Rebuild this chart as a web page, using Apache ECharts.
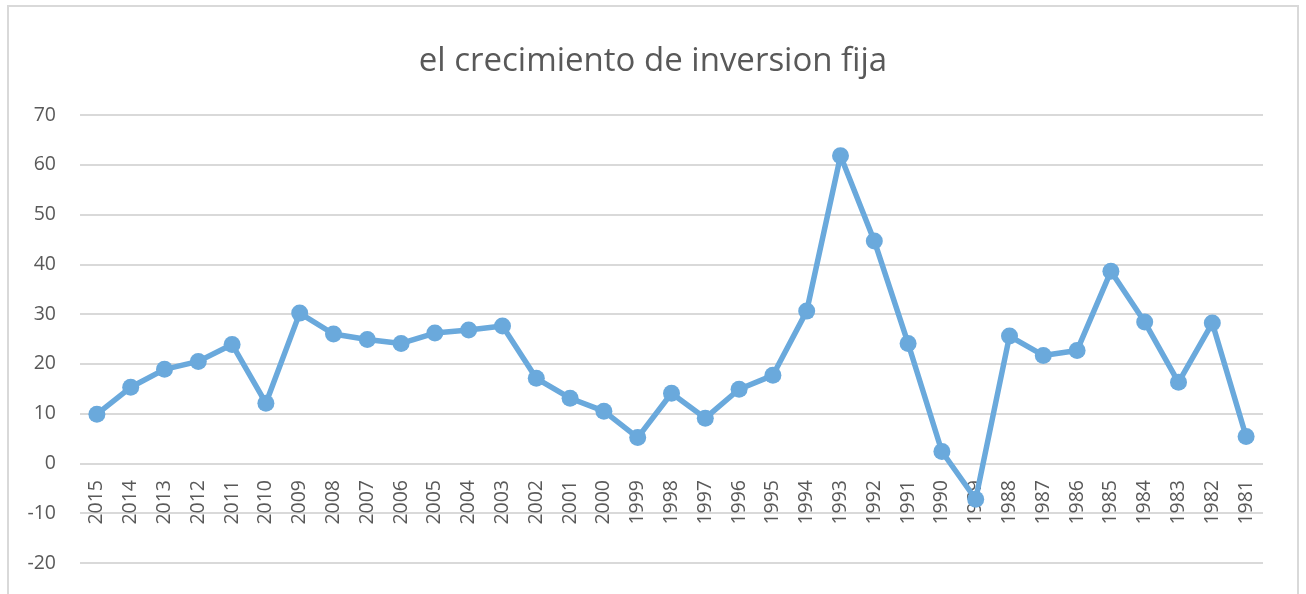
<!DOCTYPE html>
<html>
<head>
<meta charset="utf-8">
<script src="https://cdn.jsdelivr.net/npm/echarts@6/dist/echarts.min.js"></script>
<style>
html,body{margin:0;padding:0;background:#fff;}
#frame{position:absolute;left:7px;top:5px;width:1288px;height:600px;border:2px solid #d9d9d9;border-bottom:none;}
#main{position:absolute;left:0;top:0;width:1306px;height:594px;}
</style>
</head>
<body>
<div id="frame"></div>
<div id="main"></div>
<script>
var years = ['2015','2014','2013','2012','2011','2010','2009','2008','2007','2006','2005','2004','2003','2002','2001','2000','1999','1998','1997','1996','1995','1994','1993','1992','1991','1990','1989','1988','1987','1986','1985','1984','1983','1982','1981'];
var growth = [9.9,15.3,18.9,20.5,23.9,12.1,30.2,26.0,24.9,24.1,26.2,26.8,27.6,17.1,13.1,10.5,5.2,14.1,9.1,14.9,17.7,30.6,61.8,44.7,24.1,2.4,-7.2,25.6,21.7,22.7,38.6,28.4,16.3,28.2,5.4];
var titleText = 'el crecimiento de inversion fija';

var myChart = echarts.init(document.getElementById('main'));
var option = {
    animation: false,
    title: {
        text: titleText,
        left: 'center',
        top: 40,
        textStyle: {
            fontFamily: 'Open Sans',
            fontSize: 33,
            fontWeight: 'normal',
            color: '#595959'
        }
    },
    grid: {
        left: 80,
        right: 43,
        top: 115,
        bottom: 31,
        containLabel: false,
        outerBoundsMode: 'none'
    },
    xAxis: {
        type: 'category',
        data: years,
        boundaryGap: true,
        position: 'bottom',
        offset: -100,   // labels hang from the zero line (100px above -20)
        axisLine: { show: false },
        axisTick: { show: false },
        axisLabel: {
            rotate: 90,
            interval: 0,
            margin: 17,
            fontFamily: 'Open Sans',
            fontSize: 19.5,
            color: '#595959'
        }
    },
    yAxis: {
        type: 'value',
        min: -20,
        max: 70,
        interval: 10,
        axisLine: { show: false },
        axisTick: { show: false },
        splitLine: { lineStyle: { color: '#d9d9d9', width: 2 } },
        axisLabel: {
            margin: 24,
            fontFamily: 'Open Sans',
            fontSize: 19.5,
            color: '#595959'
        }
    },
    series: [{
        type: 'line',
        data: growth,
        symbol: 'circle',
        symbolSize: 17,
        lineStyle: { color: '#6aa9dc', width: 5.5 },
        itemStyle: { color: '#6aa9dc' }
    }]
};
myChart.setOption(option);
</script>
</body>
</html>
